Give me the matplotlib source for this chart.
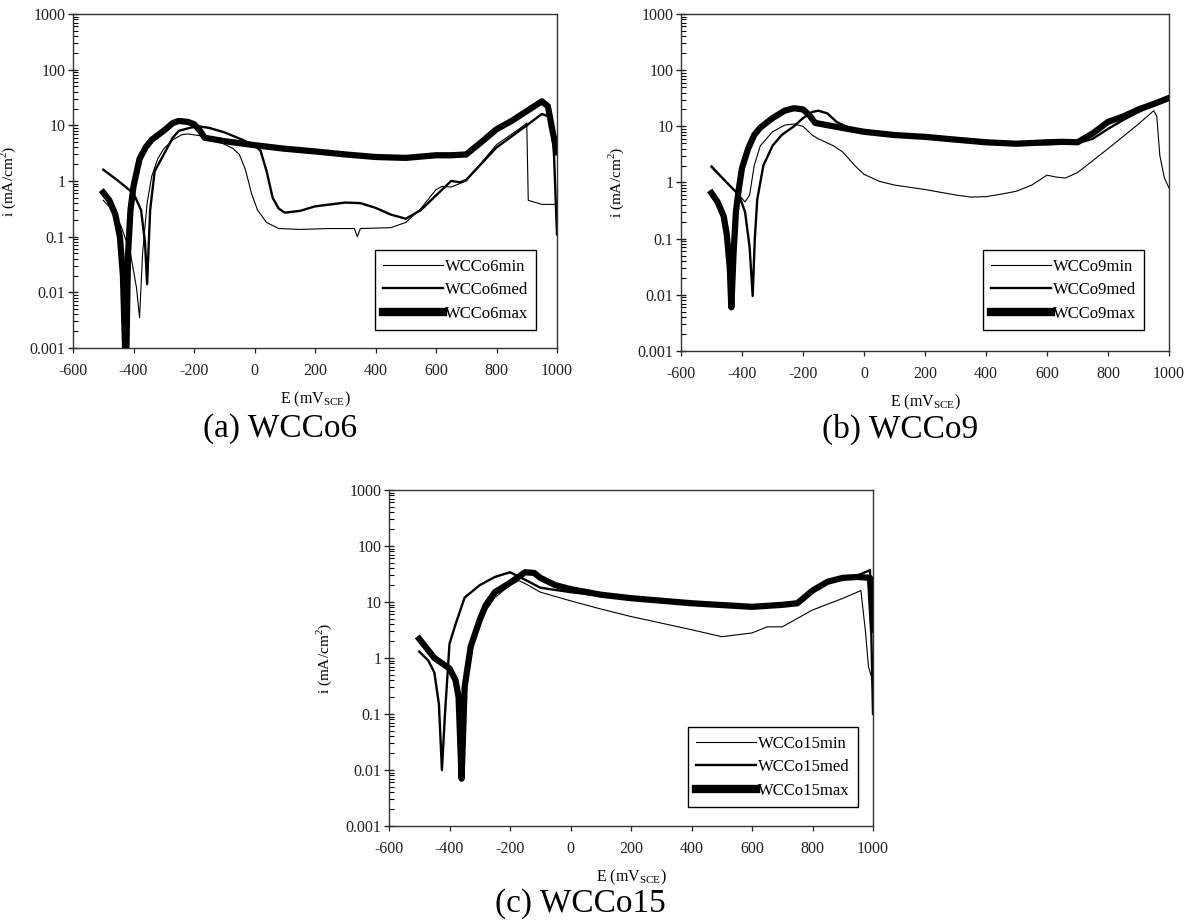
import numpy as np
import matplotlib
matplotlib.use("Agg")
import matplotlib.pyplot as plt
from matplotlib.ticker import LogLocator, FixedLocator, NullFormatter

plt.rcParams['font.family'] = ['Liberation Serif', 'DejaVu Serif']

# ---- WC-Co6 polarisation curves (E in mV_SCE, i in mA/cm2)
a_min_E = [-500, -470, -440, -410, -390, -380, -370, -355, -340, -320, -300, -270, -240, -220, -180, -150,
           -100, -70, -50, -30, -10, 10, 40, 80, 150, 250, 330, 340, 350, 450, 500, 550, 600, 620, 650,
           700, 800, 880, 900, 905, 950, 1000]
a_min_i = [0.45, 0.3, 0.15, 0.05, 0.012, 0.0035, 0.05, 0.4, 1.2, 2.5, 3.8, 5.5, 6.8, 7.0, 6.5, 5.8,
           4.6, 3.8, 3.0, 1.6, 0.6, 0.3, 0.18, 0.14, 0.135, 0.14, 0.14, 0.1, 0.14, 0.145, 0.18, 0.32, 0.7, 0.8, 0.78,
           1.0, 4.5, 9.0, 11.0, 0.45, 0.38, 0.38]

a_med_E = [-500, -450, -400, -375, -362, -355, -345, -330, -300, -270, -250, -190, -150, -100, -50, 0, 20,
           40, 60, 80, 100, 150, 200, 300, 350, 400, 450, 500, 550, 600, 650, 680, 700, 800, 900, 950, 980,
           990, 1000]
a_med_i = [1.6, 1.0, 0.6, 0.3, 0.08, 0.014, 0.3, 1.5, 3.0, 6.0, 8.0, 9.7, 9.0, 7.5, 5.8, 4.4, 3.5,
           1.5, 0.5, 0.32, 0.27, 0.29, 0.35, 0.41, 0.4, 0.33, 0.25, 0.21, 0.3, 0.55, 1.0, 0.95, 1.05, 4.0, 10.0, 16.0, 14.0,
           3.0, 0.11]

a_max_E = [-500, -480, -460, -445, -435, -425, -418, -410, -400, -380, -360, -340, -300, -270, -250, -220,
           -200, -180, -165, -150, -100, 0, 100, 200, 300, 400, 500, 600, 650, 700, 750, 800, 850, 900, 950,
           970, 985, 1000]
a_max_i = [0.62, 0.45, 0.25, 0.1, 0.02, 0.0003, 0.05, 0.3, 0.8, 2.5, 4.0, 5.5, 8.0, 11.0, 12.0, 11.5,
           10.5, 8.0, 6.0, 5.8, 5.2, 4.4, 3.8, 3.4, 3.0, 2.7, 2.6, 2.9, 2.9, 3.0, 5.0, 8.5, 12.0, 18.0, 27.0,
           22.0, 8.0, 3.3]

# ---- WC-Co9
b_min_E = [-500, -450, -410, -390, -375, -360, -340, -300, -260, -230, -200, -170, -150, -100, -70, -30, 0,
           50, 100, 200, 300, 350, 400, 450, 500, 550, 600, 630, 660, 700, 800, 900, 950, 960, 970, 985, 1000]
b_min_i = [2.0, 1.0, 0.6, 0.45, 0.6, 2.0, 4.5, 8.0, 10.5, 11.0, 10.0, 7.0, 6.0, 4.5, 3.5, 2.0, 1.4,
           1.05, 0.9, 0.75, 0.6, 0.55, 0.56, 0.62, 0.7, 0.9, 1.35, 1.25, 1.2, 1.5, 4.0, 11.0, 19.0, 15.0, 3.0, 1.2, 0.8]

b_med_E = [-500, -450, -410, -390, -375, -365, -358, -350, -330, -300, -270, -230, -200, -170, -150, -120,
           -90, -60, 0, 200, 400, 500, 600, 700, 750, 800, 850, 900, 950, 1000]
b_med_i = [1.9, 1.0, 0.6, 0.3, 0.07, 0.0095, 0.1, 0.5, 2.0, 4.5, 7.0, 10.0, 14.0, 18.0, 19.0, 17.0,
           12.0, 10.0, 8.0, 6.5, 5.2, 4.8, 4.8, 5.0, 6.0, 9.0, 13.0, 18.0, 24.0, 30.0]

b_max_E = [-500, -480, -460, -450, -440, -435, -428, -420, -410, -400, -380, -360, -340, -300, -260, -230,
           -200, -180, -160, -100, 0, 100, 200, 300, 400, 500, 600, 650, 700, 750, 800, 850, 900, 950, 1000]
b_max_i = [0.65, 0.45, 0.25, 0.12, 0.03, 0.006, 0.05, 0.3, 0.8, 1.8, 4.0, 7.0, 9.5, 14.0, 19.0, 21.0,
           20.0, 16.0, 11.5, 10.0, 8.0, 7.0, 6.5, 5.8, 5.2, 4.9, 5.2, 5.3, 5.2, 7.5, 12.0, 15.0, 20.0, 25.0, 32.0]

# ---- WC-Co15
c_min_E = [-490, -450, -400, -380, -370, -365, -358, -340, -300, -280, -250, -200, -170, -140, -100, 0,
           100, 200, 300, 400, 500, 600, 650, 700, 800, 900, 960, 975, 985, 995, 1000]
c_min_i = [1.9, 1.0, 0.6, 0.35, 0.15, 0.02, 0.1, 0.8, 4.0, 7.0, 12.0, 20.0, 24.0, 20.0, 15.0, 10.5,
           7.5, 5.5, 4.2, 3.2, 2.4, 2.8, 3.6, 3.6, 7.2, 11.6, 16.0, 3.0, 0.7, 0.46, 0.3]

c_med_E = [-500, -470, -450, -435, -425, -415, -400, -380, -350, -300, -250, -200, -180, -150, -100, 0,
           100, 200, 400, 600, 700, 750, 800, 850, 900, 950, 990, 995, 1000]
c_med_i = [1.3, 0.9, 0.55, 0.15, 0.01, 0.1, 1.8, 4.0, 12.0, 20.0, 28.0, 34.0, 30.0, 25.0, 18.0, 15.0,
           13.0, 11.5, 9.5, 8.2, 8.9, 9.8, 17.0, 24.0, 27.0, 30.0, 37.0, 2.0, 0.1]

c_max_E = [-500, -450, -400, -380, -370, -360, -350, -330, -300, -280, -250, -200, -150, -120, -100, -50,
           0, 100, 200, 400, 600, 700, 750, 800, 850, 900, 950, 990, 1000]
c_max_i = [2.2, 1.0, 0.65, 0.4, 0.2, 0.007, 0.3, 1.6, 4.8, 8.8, 15.0, 22.0, 34.0, 33.0, 27.0, 20.0,
           17.0, 13.5, 11.7, 9.5, 8.2, 8.9, 9.5, 16.0, 23.0, 27.0, 28.0, 27.0, 3.2]

W, H = 1196, 922
fig = plt.figure(figsize=(W / 100, H / 100), dpi=100)


def px_axes(x0, y0, x1, y1):
    return fig.add_axes([x0 / W, 1 - y1 / H, (x1 - x0) / W, (y1 - y0) / H])


def panel(ax, series, names, leg_anchor):
    widths = [0.8, 1.7, 4.5]
    for (E, i), lab, lw in zip(series, names, widths):
        ax.plot(E, i, color='black', lw=lw, label=lab, solid_joinstyle='round')
    ax.set_yscale('log')
    ax.set_xlim(-600, 1000)
    ax.set_ylim(0.001, 1000)
    ax.xaxis.set_major_locator(FixedLocator(np.arange(-600, 1001, 200)))
    ax.set_xticklabels([str(v) for v in range(-600, 1001, 200)])
    ax.yaxis.set_major_locator(FixedLocator([0.001, 0.01, 0.1, 1, 10, 100, 1000]))
    ax.set_yticklabels(['0.001', '0.01', '0.1', '1', '10', '100', '1000'])
    ax.yaxis.set_minor_locator(LogLocator(base=10, subs=np.arange(2, 10)))
    ax.yaxis.set_minor_formatter(NullFormatter())
    ax.tick_params(axis='x', direction='out', length=3.5, width=0.9, pad=7, labelsize=11.5, colors='#222222')
    ax.tick_params(axis='y', which='major', direction='inout', length=7, width=1.0, pad=2, labelsize=11.5,
                   colors='#222222')
    ax.tick_params(axis='y', which='minor', direction='in', length=3.5, width=0.8)
    for s in ax.spines.values():
        s.set_linewidth(1.0)
        s.set_color('#333333')
    ax.set_xlabel(r'E (mV$_\mathregular{SCE}$)', fontsize=11.5, labelpad=8)
    ax.set_ylabel(r'i (mA/cm$^\mathregular{2}$)', fontsize=11, labelpad=8)
    leg = ax.legend(loc='lower right', bbox_to_anchor=leg_anchor, frameon=True, fancybox=False,
                    edgecolor='black', framealpha=1, fontsize=12, handlelength=3.6, handletextpad=0.1,
                    labelspacing=0.45, borderpad=0.5, borderaxespad=0)
    leg.get_frame().set_linewidth(1.0)
    leg.get_lines()[2].set_linewidth(6)


ax_a = px_axes(73, 14, 557, 348)
panel(ax_a, [(a_min_E, a_min_i), (a_med_E, a_med_i), (a_max_E, a_max_i)],
      ['WCCo6min', 'WCCo6med', 'WCCo6max'], (0.957, 0.054))

ax_b = px_axes(681, 14, 1169, 351)
panel(ax_b, [(b_min_E, b_min_i), (b_med_E, b_med_i), (b_max_E, b_max_i)],
      ['WCCo9min', 'WCCo9med', 'WCCo9max'], (0.949, 0.062))

ax_c = px_axes(389, 490, 873, 826)
panel(ax_c, [(c_min_E, c_min_i), (c_med_E, c_med_i), (c_max_E, c_max_i)],
      ['WCCo15min', 'WCCo15med', 'WCCo15max'], (0.969, 0.057))

fig.text(280 / W, 1 - 429 / H, '(a) WCCo6', fontsize=24, ha='center', va='center')
fig.text(900 / W, 1 - 429 / H, '(b) WCCo9', fontsize=24, ha='center', va='center')
fig.text(580 / W, 1 - 904 / H, '(c) WCCo15', fontsize=24, ha='center', va='center')

fig.savefig('out.png', dpi=100)
